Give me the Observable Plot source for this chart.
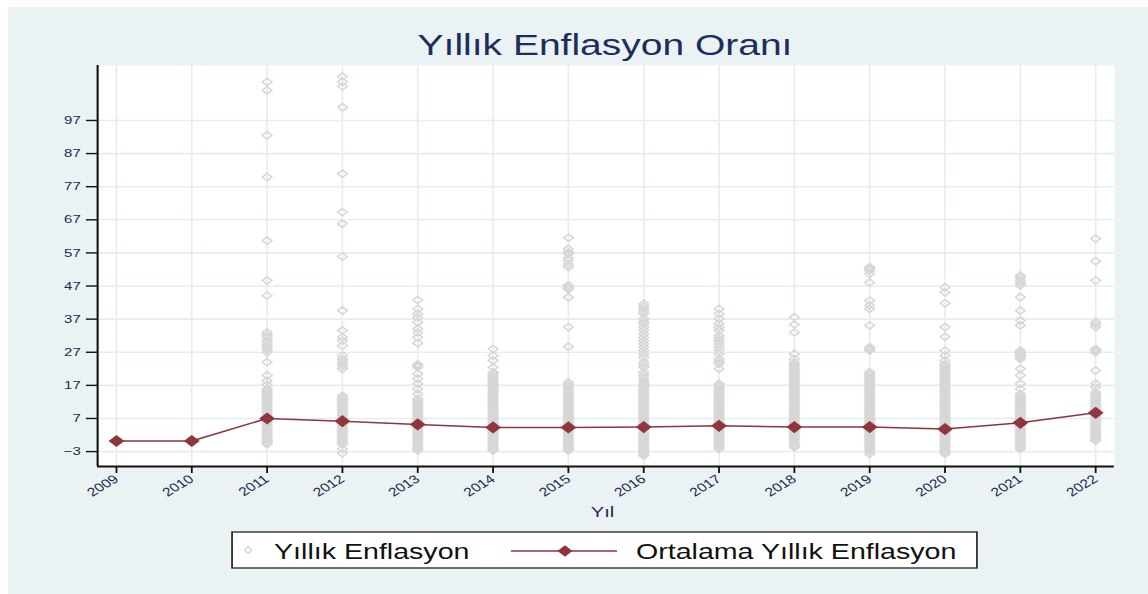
<!DOCTYPE html>
<html>
<head>
<meta charset="utf-8">
<script src="https://cdn.jsdelivr.net/npm/d3@7"></script>
<script src="https://cdn.jsdelivr.net/npm/@observablehq/plot@0.6"></script>
<style>
  body { margin: 0; background: #ffffff; }
  #page { position: relative; width: 1148px; height: 594px; overflow: hidden; background: #ffffff; }
  #bg { position: absolute; left: 8px; top: 7px; right: 0; bottom: 0; background: #eaf2f3; }
  #stretch { position: absolute; left: 0; top: 0; width: 883px; height: 594px; transform: scaleX(1.3); transform-origin: 0 0; }
  #chart { position: absolute; left: 0; top: 0; }
  #overlay { position: absolute; left: 0; top: 0; }
</style>
</head>
<body>
<div id="page">
  <div id="bg"></div>
  <div id="stretch">
    <div id="chart"></div>
    <svg id="overlay" width="883" height="594"></svg>
  </div>
</div>
<script>
// ---- data ----
const years = [2009, 2010, 2011, 2012, 2013, 2014, 2015, 2016, 2017, 2018, 2019, 2020, 2021, 2022];
const ortalama = [0.2, 0.2, 7.0, 6.2, 5.2, 4.3, 4.3, 4.4, 4.8, 4.4, 4.4, 3.8, 5.7, 8.7];
const yTicks = [-3, 7, 17, 27, 37, 47, 57, 67, 77, 87, 97];

const yil2011 = [108.6,106.1,92.5,79.9,60.7,48.7,44.1,33.0,32.2,31.5,30.6,30.0,29.2,28.5,27.8,27.0,24.0,20.0,18.4,17.2,
  15.9,15.3,14.7,14.1,13.5,12.9,12.3,11.7,11.1,10.5,9.9,9.3,8.7,8.1,7.5,6.9,6.3,5.7,5.1,4.5,3.9,3.3,2.7,2.1,1.5,0.9,0.3,-0.3,-0.7];
const yil2012 = [110.3,108.7,107.3,101.0,80.9,69.3,65.8,55.9,39.6,33.6,31.5,30.5,29.0,26.0,25.0,24.2,23.5,22.8,22.0,
  13.9,13.3,12.7,12.1,11.5,10.9,10.3,9.7,9.1,8.5,7.9,7.3,6.7,6.1,5.5,4.9,4.3,3.7,3.1,2.5,1.9,1.3,0.7,0.1,-0.5,-0.7,-2.2,-3.5];
const yil2013 = [42.8,40.1,38.6,37.6,36.1,34.1,33.0,31.5,29.7,23.3,22.9,22.5,20.5,19.0,17.5,15.9,14.4,
  12.9,12.3,11.7,11.1,10.5,9.9,9.3,8.7,8.1,7.5,6.9,6.3,5.7,5.1,4.5,3.9,3.3,2.7,2.1,1.5,0.9,0.3,-0.3,-0.9,-1.5,-2.1,-2.7];
const yil2014 = [28.0,26.0,24.5,22.5,
  21.0,20.4,19.8,19.2,18.6,18.0,17.4,16.8,16.2,15.6,15.0,14.4,13.8,13.2,12.6,12.0,11.4,10.8,10.2,9.6,9.0,8.4,7.8,7.2,6.6,6.0,5.4,4.8,4.2,3.6,3.0,2.4,1.8,1.2,0.6,0.0,-0.6,-1.2,-1.8,-2.3,-2.7];
const yil2015 = [61.6,58.2,57.2,56.7,55.5,54.7,53.5,52.7,47.2,46.6,46.0,43.6,34.6,28.7,
  17.9,17.3,16.7,16.1,15.5,14.9,14.3,13.7,13.1,12.5,11.9,11.3,10.7,10.1,9.5,8.9,8.3,7.7,7.1,6.5,5.9,5.3,4.7,4.1,3.5,2.9,2.3,1.7,1.1,0.5,-0.1,-0.7,-1.3,-1.9,-2.4,-2.7];
const yil2016 = [41.6,40.8,40.1,39.3,38.6,37.1,36.3,35.6,34.6,33.6,32.5,31.5,30.5,29.5,28.5,27.5,26.5,25.5,24.0,23.2,22.5,21.0,20.2,19.4,
  18.4,17.8,17.2,16.6,16.0,15.4,14.8,14.2,13.6,13.0,12.4,11.8,11.2,10.6,10.0,9.4,8.8,8.2,7.6,7.0,6.4,5.8,5.2,4.6,4.0,3.4,2.8,2.2,1.6,1.0,0.4,-0.2,-0.8,-1.4,-2.0,-2.6,-3.2,-3.7,-4.2];
const yil2017 = [40.1,38.6,37.1,35.6,34.5,33.6,32.0,31.2,30.5,29.5,28.5,27.5,26.5,25.0,24.2,23.5,22.0,
  17.5,16.9,16.3,15.7,15.1,14.5,13.9,13.3,12.7,12.1,11.5,10.9,10.3,9.7,9.1,8.5,7.9,7.3,6.7,6.1,5.5,4.9,4.3,3.7,3.1,2.5,1.9,1.3,0.7,0.1,-0.5,-1.1,-1.7,-2.2];
const yil2018 = [37.6,35.4,33.0,26.5,25.0,
  24.0,23.4,22.8,22.2,21.6,21.0,20.4,19.8,19.2,18.6,18.0,17.4,16.8,16.2,15.6,15.0,14.4,13.8,13.2,12.6,12.0,11.4,10.8,10.2,9.6,9.0,8.4,7.8,7.2,6.6,6.0,5.4,4.8,4.2,3.6,3.0,2.4,1.8,1.2,0.6,0.0,-0.6,-1.2,-1.7];
const yil2019 = [52.7,52.2,51.7,50.7,48.1,42.6,41.1,40.1,35.1,28.5,28.0,27.5,
  21.0,20.4,19.8,19.2,18.6,18.0,17.4,16.8,16.2,15.6,15.0,14.4,13.8,13.2,12.6,12.0,11.4,10.8,10.2,9.6,9.0,8.4,7.8,7.2,6.6,6.0,5.4,4.8,4.2,3.6,3.0,2.4,1.8,1.2,0.6,0.0,-0.6,-1.2,-1.8,-2.4,-3.0,-3.7];
const yil2020 = [46.6,45.1,41.8,34.6,31.7,27.5,26.0,24.5,
  23.5,22.9,22.3,21.7,21.1,20.5,19.9,19.3,18.7,18.1,17.5,16.9,16.3,15.7,15.1,14.5,13.9,13.3,12.7,12.1,11.5,10.9,10.3,9.7,9.1,8.5,7.9,7.3,6.7,6.1,5.5,4.9,4.3,3.7,3.1,2.5,1.9,1.3,0.7,0.1,-0.5,-1.1,-1.7,-2.3,-2.9,-3.4,-3.7];
const yil2021 = [50.2,49.5,48.7,47.9,47.2,43.6,39.6,36.6,35.1,27.5,27.0,26.5,26.0,25.5,25.0,22.0,20.0,17.5,15.9,
  14.4,13.8,13.2,12.6,12.0,11.4,10.8,10.2,9.6,9.0,8.4,7.8,7.2,6.6,6.0,5.4,4.8,4.2,3.6,3.0,2.4,1.8,1.2,0.6,0.0,-0.6,-1.2,-1.8,-2.2];
const yil2022 = [61.3,54.5,48.7,36.1,35.4,34.6,28.0,27.5,27.0,21.5,17.5,16.4,
  14.9,14.3,13.7,13.1,12.5,11.9,11.3,10.7,10.1,9.5,8.9,8.3,7.7,7.1,6.5,5.9,5.3,4.7,4.1,3.5,2.9,2.3,1.7,1.1,0.5,0.3];

const yillikSeries = {2011: yil2011, 2012: yil2012, 2013: yil2013, 2014: yil2014, 2015: yil2015, 2016: yil2016,
  2017: yil2017, 2018: yil2018, 2019: yil2019, 2020: yil2020, 2021: yil2021, 2022: yil2022};

// ---- tables built from the arrays ----
const scatter = Object.entries(yillikSeries).flatMap(([y, vals]) => vals.map(v => ({yil: +y, deger: v})));
const means = years.map((y, i) => ({yil: y, deger: ortalama[i]}));

const xDomain = [2008.75, 2022.25];
const yDomain = [-7.5, 113.6];
const red = "#90353b";
const gridColor = "#e4eef1";

const chart = Plot.plot({
  width: 883,
  height: 500,
  marginLeft: 74.6,
  marginRight: 26.2,
  marginTop: 65,
  marginBottom: 34,
  x: {domain: xDomain},
  y: {domain: yDomain},
  style: {background: "transparent", fontFamily: "'Liberation Sans', Arial, sans-serif", color: "#1e2a50", overflow: "visible"},
  marks: [
    Plot.frame({fill: "white", stroke: "none"}),
    Plot.gridX(years, {stroke: gridColor, strokeWidth: 1.3, strokeOpacity: 1}),
    Plot.gridY(yTicks, {stroke: gridColor, strokeWidth: 1.6, strokeOpacity: 1}),
    Plot.dot(scatter, {x: "yil", y: "deger", symbol: "diamond2", r: 3.35, stroke: "#d6d6d6", strokeWidth: 1.35, fill: "none"}),
    Plot.line(means, {x: "yil", y: "deger", stroke: red, strokeWidth: 1.5}),
    Plot.dot(means, {x: "yil", y: "deger", symbol: "diamond2", r: 5.5, fill: red, stroke: "none"}),
    Plot.ruleX([xDomain[0]], {stroke: "#111", strokeWidth: 1.6}),
    Plot.ruleY([yDomain[0]], {stroke: "#111", strokeWidth: 2}),
    Plot.axisY(yTicks, {tickSize: 8.5, tickPadding: 4.5, fontSize: 11.5, stroke: "#111", strokeWidth: 1.4, label: null}),
    Plot.axisX(years, {tickSize: 7, tickPadding: 4, tickRotate: -38, fontSize: 12, tickFormat: d => String(d), stroke: "#111", strokeWidth: 1.4, label: null})
  ]
});
document.getElementById("chart").appendChild(chart);

// ---- title, axis label, legend ----
const ns = "http://www.w3.org/2000/svg";
const ov = document.getElementById("overlay");
function el(tag, attrs, text) {
  const e = document.createElementNS(ns, tag);
  for (const k in attrs) e.setAttribute(k, attrs[k]);
  if (text != null) e.textContent = text;
  ov.appendChild(e);
  return e;
}
const font = "'Liberation Sans', Arial, sans-serif";
el("text", {x: 465.4, y: 55, "text-anchor": "middle", "font-family": font, "font-size": 30, fill: "#1c2d5c"}, "Yıllık Enflasyon Oranı");
el("text", {x: 463.5, y: 517, "text-anchor": "middle", "font-family": font, "font-size": 15.5, fill: "#2b2360"}, "Yıl");
el("rect", {x: 178.5, y: 532, width: 573, height: 36, fill: "white", stroke: "#222", "stroke-width": 1.3});
el("path", {d: "M190.8,546.6L193.6,550L190.8,553.4L188,550Z", fill: "none", stroke: "#d0d0d0", "stroke-width": 1});
el("text", {x: 210.8, y: 559, "font-family": font, "font-size": 22, fill: "#111"}, "Yıllık Enflasyon");
el("line", {x1: 393, x2: 474.6, y1: 551, y2: 551, stroke: red, "stroke-width": 1.6});
el("path", {d: "M434.6,545.2L440.4,551L434.6,556.8L428.8,551Z", fill: red});
el("text", {x: 489.2, y: 559, "font-family": font, "font-size": 22, fill: "#111"}, "Ortalama Yıllık Enflasyon");
</script>
</body>
</html>
